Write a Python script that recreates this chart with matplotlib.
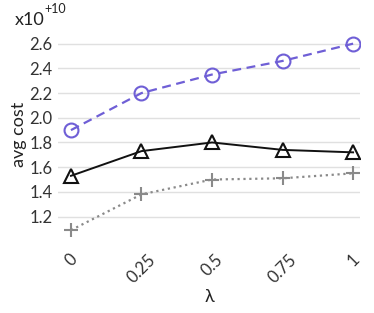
import matplotlib
matplotlib.use('Agg')
import matplotlib.pyplot as plt

plt.rcParams['font.family'] = ['Lato', 'DejaVu Sans']

lambdas = [0, 0.25, 0.5, 0.75, 1]
tick_labels = ['0', '0.25', '0.5', '0.75', '1']
purple_cost = [1.90, 2.20, 2.35, 2.46, 2.60]
black_cost = [1.53, 1.73, 1.80, 1.74, 1.72]
gray_cost = [1.09, 1.38, 1.50, 1.51, 1.55]
y_ticks = [1.2, 1.4, 1.6, 1.8, 2.0, 2.2, 2.4, 2.6]

fig = plt.figure(figsize=(3.74, 3.13), dpi=100)
ax = fig.add_axes([0.155, 0.237, 0.808, 0.665])

ax.plot(lambdas, purple_cost, color='#6f5fd6', linestyle='--', linewidth=1.6,
        marker='o', markersize=10, markerfacecolor='none',
        markeredgewidth=1.5, dashes=(4, 2.5))
ax.plot(lambdas, black_cost, color='#111111', linestyle='-', linewidth=1.4,
        marker='^', markersize=10, markerfacecolor='none',
        markeredgewidth=1.5)
ax.plot(lambdas, gray_cost, color='#8a8a8a', linestyle=':', linewidth=1.6,
        marker='+', markersize=10, markeredgewidth=1.5)

ax.set_xlim(-0.046, 1.025)
ax.set_ylim(1.02, 2.705)
ax.set_yticks(y_ticks)
ax.set_yticklabels([f'{v:.1f}' for v in y_ticks])
ax.set_xticks(lambdas)
ax.set_xticklabels(tick_labels, rotation=45, ha='center')

ax.grid(axis='y', color='#e0e0e0', linewidth=1)
ax.set_axisbelow(True)
for side in ax.spines.values():
    side.set_visible(False)
ax.tick_params(length=0, labelsize=12, colors='#333333', pad=4)
ax.tick_params(axis='x', pad=9)

ax.set_ylabel('avg cost', fontsize=13, color='#222222', labelpad=2)
ax.set_xlabel('λ', fontsize=13, color='#222222', labelpad=2)

fig.text(0.04, 0.92, 'x10', fontsize=13, color='#222222')
fig.text(0.118, 0.958, '+10', fontsize=9, color='#222222')

fig.savefig('out.png', dpi=100)
